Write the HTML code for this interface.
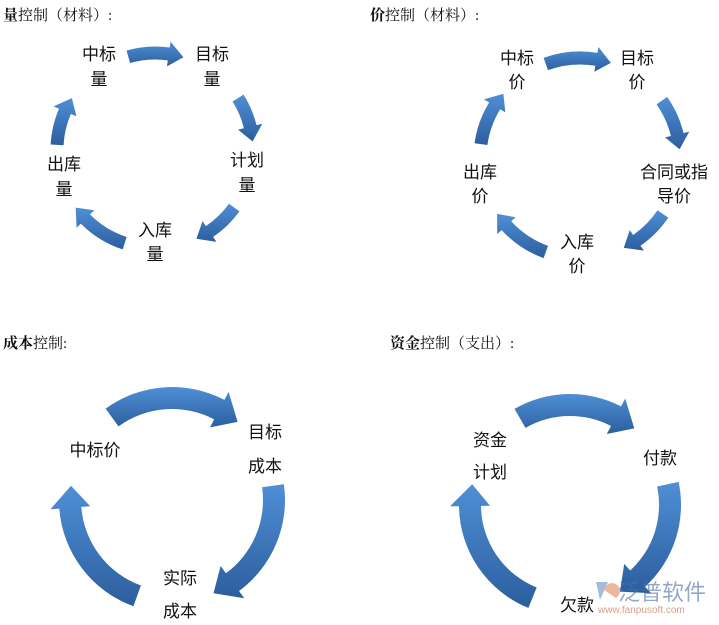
<!DOCTYPE html>
<html><head><meta charset="utf-8"><style>
body{margin:0;background:#fff;width:719px;height:625px;overflow:hidden}
svg{display:block}
text{font-family:"Liberation Sans","Noto Sans CJK SC",sans-serif;fill:#111}
.t{font-family:"Liberation Serif","Noto Serif CJK SC",serif;font-size:15px}
.b{font-weight:bold}
</style></head><body>
<svg id="s" width="719" height="625" viewBox="0 0 719 625" xmlns="http://www.w3.org/2000/svg">
<defs><linearGradient id="g" x1="0" y1="0" x2="0" y2="1"><stop offset="0" stop-color="#4f8fd6"/><stop offset="1" stop-color="#2c5e9e"/></linearGradient></defs>
<g id="arrows"></g>
<text class="t" x="3" y="20"><tspan class="b">量</tspan>控制（材料）:</text>
<text class="t" x="370" y="20"><tspan class="b">价</tspan>控制（材料）:</text>
<text class="t" x="3" y="348"><tspan class="b">成本</tspan>控制:</text>
<text class="t" x="390" y="348"><tspan class="b">资金</tspan>控制（支出）:</text>
<g font-size="17" text-anchor="middle">
<text x="99" y="60">中标</text><text x="99" y="85">量</text>
<text x="212" y="60">目标</text><text x="212" y="85">量</text>
<text x="247" y="166">计划</text><text x="247" y="191">量</text>
<text x="64" y="170">出库</text><text x="64" y="195">量</text>
<text x="155" y="236">入库</text><text x="155" y="260">量</text>
<text x="517" y="64">中标</text><text x="517" y="88">价</text>
<text x="637" y="64">目标</text><text x="637" y="88">价</text>
<text x="674" y="178">合同或指</text><text x="674" y="202">导价</text>
<text x="480" y="178">出库</text><text x="480" y="202">价</text>
<text x="577" y="248">入库</text><text x="577" y="272">价</text>
<text x="95" y="456">中标价</text>
<text x="265" y="438">目标</text><text x="265" y="472">成本</text>
<text x="180" y="584">实际</text><text x="180" y="617">成本</text>
<text x="490" y="446">资金</text><text x="490" y="478">计划</text>
<text x="660" y="464">付款</text>
<text x="577" y="611">欠款</text>
</g>
<g opacity="0.6">
<path d="M596 582 L608 582 L600 600 Z" fill="#6b8fc0"/><path d="M604 590 a8 8 0 1 1 12 8 Z" fill="#e08a5a"/>
<text x="618" y="600" font-size="22" style="fill:#4a6fa8">泛普软件</text>
<text x="598" y="613" font-size="10" style="fill:#c0603a">www.fanpusoft.com</text>
</g>
</svg>
<script>
function arc(cx,cy,r,a1,a2,w,hw,hl){
 const d=Math.PI/180;const p=(rr,a)=>[(cx+rr*Math.cos(a*d)).toFixed(1),(cy+rr*Math.sin(a*d)).toFixed(1)].join(' ');
 const ab=a2-hl/r/d; const lg=Math.abs(ab-a1)>180?1:0;
 return `M${p(r+w/2,a1)} A${r+w/2} ${r+w/2} 0 ${lg} 1 ${p(r+w/2,ab)} L${p(r+hw/2,ab)} L${p(r,a2)} L${p(r-hw/2,ab)} L${p(r-w/2,ab)} A${r-w/2} ${r-w/2} 0 ${lg} 0 ${p(r-w/2,a1)} Z`;
}
const A=[
 [155,150,97,-106,-73,13,25,15],[155,150,98,-32,-5,13,25,15],[155,150,98,36,65,13,25,15],[155,150,98,108,144,13,25,15],[155,150,98,183,212,13,25,15],
 [580,158,100,-110,-72,13,25,15],[580,158,100,-35,-5,13,25,15],[580,158,100,34,64,13,25,15],[580,158,100,110,146,13,25,15],[580,158,100,188,220,13,25,15],
 [172,500,102,-126,-50,22,40,22],[172,500,102,-8,66,22,40,22],[172,500,102,110,188,22,40,22],
 [570,505,100,-120,-50,22,40,22],[570,505,100,-12,60,22,40,22],[570,505,100,112,192,22,40,22]
];
let h='';for(const a of A)h+=`<path d="${arc(...a)}" fill="url(#g)"/>`;
document.getElementById('arrows').innerHTML=h;
</script>
</body></html>
